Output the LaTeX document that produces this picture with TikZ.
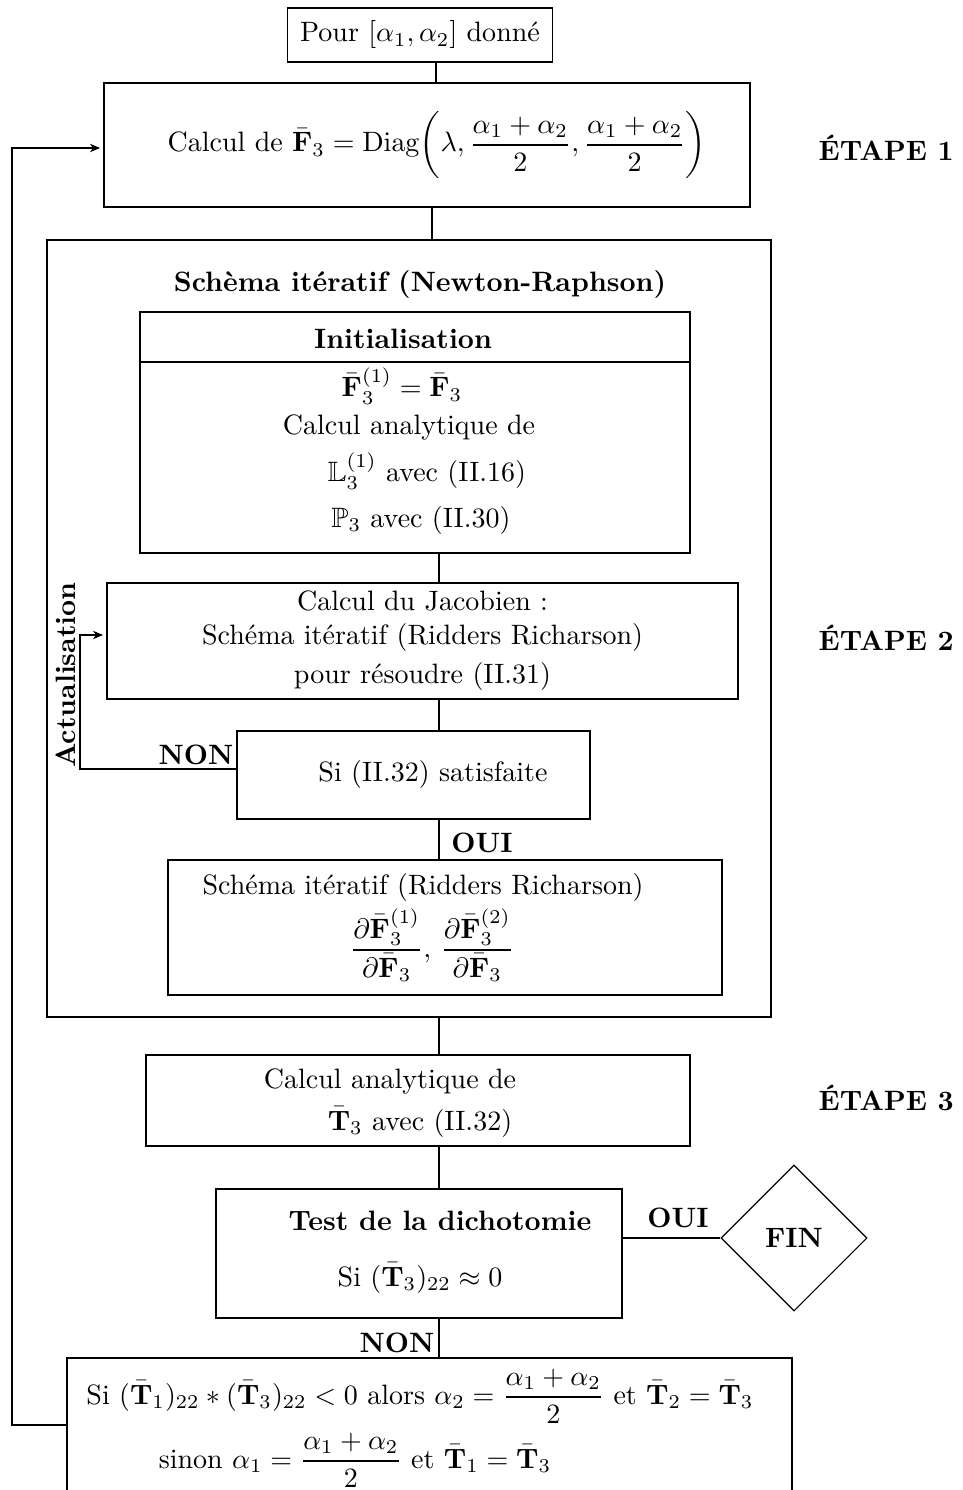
\documentclass[tikz,border=0pt]{standalone}
\usepackage{amsmath}
\usepackage{amssymb}
\usepackage{tikz}
\usetikzlibrary{shapes}
\usetikzlibrary{arrows.meta}
\usetikzlibrary{positioning}
\newdimen\px \px=0.357pt
\newcommand \Fb {\bar{\mathbf{F}}}
\newcommand \Tb {\bar{\mathbf{T}}}
\tikzstyle{box}=[rectangle,draw=black,inner sep=0mm,align=center]
\tikzstyle{fin}=[diamond,draw=black,inner sep=0mm,font=\bfseries]
\tikzstyle{lab}=[font=\bfseries,inner sep=0mm]
\tikzstyle{txt}=[inner sep=0mm,align=center]
\tikzstyle{arrow}=[-{Stealth[length=3.6pt,width=3pt,inset=1.1pt]},shorten >=1.2pt]
\tikzset{every picture/.style={
    line width=0.4pt
  }
}

\begin{document}
\begin{tikzpicture}[x=0.357pt,y=-0.357pt]
        \useasboundingbox (0,0) rectangle (962,1490);
        % etape 1
        \node[box,minimum width=265\px,minimum height=54\px] at (420,35) (pour) {Pour $[\alpha_1,\alpha_2]$ donn\'e};
        \node[box,minimum width=646\px,minimum height=124\px] at (427,145) (diag) {\hspace*{20\px}Calcul de $\Fb_3=\mathrm{Diag}{\left(\lambda,\dfrac{\alpha_1+\alpha_2}{2},\dfrac{\alpha_1+\alpha_2}{2}\right)}$};
        % etape 2
        \node[box,minimum width=724\px,minimum height=777\px] at (409,628.5) (newton) {};
        \node[txt] at (420,284) (newtont) {\bfseries Sch\`ema it\'eratif (Newton-Raphson)};
        \node[box,minimum width=550\px,minimum height=241\px] at (415,432.5) (init) {};
        \coordinate (div) at (0,362);
        \draw (init.west |- div) -- (init.east |- div);
        \node[txt] at (403,339) (initt) {\bfseries Initialisation};
        \node[txt] at (402,386) (f1) {$\Fb_3^{(1)}=\Fb_3$};
        \node[txt] at (409,428) (c1) {Calcul analytique de};
        \node[txt] at (427,471) (l1) {$\mathbb{L}_3^{(1)}$ avec (II.16)};
        \node[txt] at (421,520) (p1) {$\mathbb{P}_3$ avec (II.30)};
        \node[box,minimum width=631\px,minimum height=116\px] at (422.5,641) (jac) {Calcul du Jacobien :\\ Sch\'ema it\'eratif (Ridders Richarson)\\[2pt] pour r\'esoudre (II.31)};
        \node[box,minimum width=353\px,minimum height=88\px] at (413.5,775) (si) {};
        \node[txt] at (433,774) (sit) {Si (II.32) satisfaite};
        \node[box,minimum width=554\px,minimum height=135\px] at (445,927.5) (ridd) {};
        \node[txt] at (423,887) (riddt) {Sch\'ema it\'eratif (Ridders Richarson)};
        \node[txt] at (432,945) (jfrac) {$\dfrac{\partial\Fb_3^{(1)}}{\partial\Fb_3},\,\dfrac{\partial\Fb_3^{(2)}}{\partial\Fb_3}$};
        % etape 3
        \node[box,minimum width=544\px,minimum height=91\px] at (418,1100.5) (ana) {};
        \node[txt] at (390,1081) (anat) {Calcul analytique de};
        \node[txt] at (420,1122) (t3) {$\Tb_3$ avec (II.32)};
        \node[box,minimum width=406\px,minimum height=129\px] at (419,1253.5) (test) {};
        \node[txt] at (440,1221) (testt) {\bfseries Test de la dichotomie};
        \node[txt] at (420,1278) (t22) {Si $(\Tb_3)_{22}\approx 0$};
        \node[fin,minimum width=146\px,minimum height=146\px] at (794,1238) (fin) {FIN};
        \node[box,minimum width=725\px,minimum height=134\px] at (429.5,1425) (last) {};
        \node[txt] at (420,1396) (lastt) {Si $(\Tb_1)_{22}*(\Tb_3)_{22}<0$ alors $\alpha_2=\dfrac{\alpha_1+\alpha_2}{2}$ et $\Tb_2=\Tb_3$};
        \node[txt] at (355,1460) (sinon) {sinon $\alpha_1=\dfrac{\alpha_1+\alpha_2}{2}$ et $\Tb_1=\Tb_3$};
        % etapes
        \node[lab,anchor=west] at (818,148) (e1) {\'ETAPE 1};
        \node[lab,anchor=west] at (818,638) (e2) {\'ETAPE 2};
        \node[lab,anchor=west] at (818,1098) (e3) {\'ETAPE 3};
        % liaisons
        \coordinate (ax) at (439,0);
        \coordinate (ax1) at (436,0);
        \coordinate (ax2) at (432,0);
        \draw (pour.south -| ax1) to (diag.north -| ax1);
        \draw (diag.south -| ax2) to (newton.north -| ax2);
        \draw (init.south -| ax) to (jac.north -| ax);
        \draw (jac.south -| ax) to (si.north -| ax);
        \draw (si.south -| ax) to (ridd.north -| ax);
        \draw (newton.south -| ax) to (ana.north -| ax);
        \draw (ana.south -| ax) to (test.north -| ax);
        \draw (test.south -| ax) to (last.north -| ax);
        \draw (test.east |- fin.west) to (fin.west);
        \node[lab] at (482,843) (oui1) {OUI};
        \node[lab] at (678,1218) (oui2) {OUI};
        \node[lab] at (196,755) (non1) {NON};
        \node[lab] at (397,1343) (non2) {NON};
        % boucles
        \coordinate (act) at (80,769);
        \coordinate (actj) at (80,635);
        \draw[arrow] (si.west |- act) -- (act) -- (actj) -- (jac.west |- actj);
        \node[lab,rotate=90] at (66,675) (actt) {Actualisation};
        \coordinate (bcl) at (12,1425);
        \coordinate (bcd) at (12,148);
        \draw[arrow] (last.west |- bcl) -- (bcl) -- (bcd) -- (diag.west |- bcd);
      \end{tikzpicture}
\end{document}
